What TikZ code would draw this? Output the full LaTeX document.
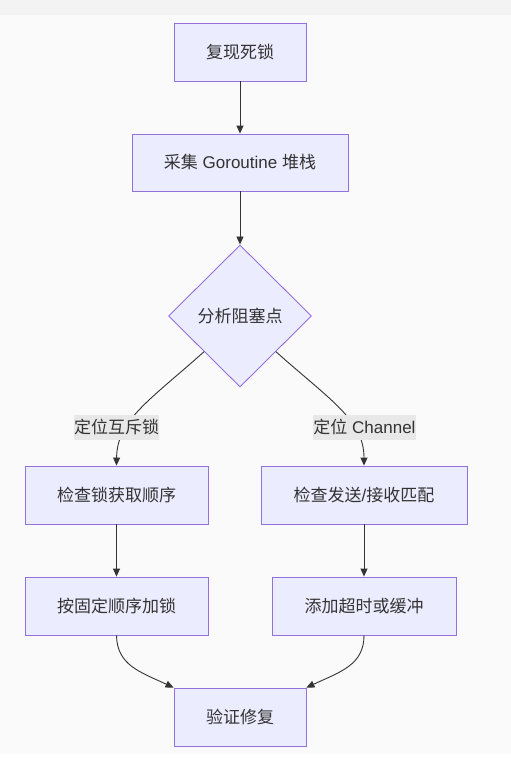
\documentclass[tikz,border=0pt]{standalone}
\usepackage{fontspec}
\setmainfont{Liberation Sans}
\newfontfamily\cjk{Noto Sans CJK SC}
\usepackage{tikz}
\usetikzlibrary{arrows.meta, positioning, shapes.geometric}

\definecolor{boxfill}{HTML}{ECECFF}
\definecolor{boxline}{HTML}{9370DB}
\definecolor{inkgray}{HTML}{333333}
\definecolor{pagegray}{HTML}{FAFAFA}
\definecolor{topgray}{HTML}{F3F3F3}
\definecolor{labelfill}{HTML}{E8E8E8}

\begin{document}
\begin{tikzpicture}[x=1pt, y=-1pt,
        font=\fontsize{17}{20}\selectfont, text=inkgray,
        procbox/.style={draw=boxline, fill=boxfill, line width=0.9pt, rectangle, minimum height=58pt, inner sep=0pt},
        decision/.style={draw=boxline, fill=boxfill, line width=0.9pt, diamond, minimum width=143pt, minimum height=142pt, inner sep=0pt},
        edgelabel/.style={fill=labelfill, minimum height=25pt, inner xsep=0pt, inner ysep=0pt},
        flow/.style={draw=inkgray, line width=0.9pt, -{Triangle[length=8pt, width=7pt]}}]
        % page background
        \useasboundingbox (0,0) rectangle (511,760);
        \fill[topgray] (0,0) rectangle (511,15);
        \fill[pagegray] (0,15) rectangle (511,754);

        % main column
        \node[procbox, minimum width=132pt] (repro) at (240,52) {\cjk 复现死锁};
        \node[procbox, minimum width=216pt, minimum height=57pt] (collect) at (240,162.5) {{\cjk 采集} Goroutine {\cjk 堆栈}};
        \node[decision] (analyze) at (240,316) {\cjk 分析阻塞点};

        % two branches
        \node[procbox, minimum width=183pt] (lockorder) at (116.5,495) {\cjk 检查锁获取顺序};
        \node[procbox, minimum width=206pt] (chanmatch) at (364,495) {{\cjk 检查发送}/{\cjk 接收匹配}};
        \node[procbox, minimum width=183pt] (fixorder) at (116.5,606) {\cjk 按固定顺序加锁};
        \node[procbox, minimum width=184pt] (timeout) at (364,606) {\cjk 添加超时或缓冲};
        \node[procbox, minimum width=132pt] (verify) at (240,717) {\cjk 验证修复};

        % connectors
        \draw[flow] (repro) -- (collect);
        \draw[flow] (collect) -- (analyze);
        \draw[flow] (analyze.south west) .. controls (150,400) and (117,420) .. (lockorder.north);
        \draw[flow] (analyze.south east) .. controls (330,400) and (364,420) .. (chanmatch.north);
        \draw[flow] (lockorder) -- (fixorder);
        \draw[flow] (chanmatch) -- (timeout);
        \draw[flow] (fixorder.south) .. controls (117,665) and (140,672) .. (verify.north west);
        \draw[flow] (timeout.south) .. controls (364,665) and (340,672) .. (verify.north east);

        % branch labels
        \node[edgelabel] (mutexlbl) at (116.5,427.5) {\cjk 定位互斥锁};
        \node[edgelabel] (chanlbl) at (364.5,427.5) {{\cjk 定位} Channel};
    \end{tikzpicture}
\end{document}
